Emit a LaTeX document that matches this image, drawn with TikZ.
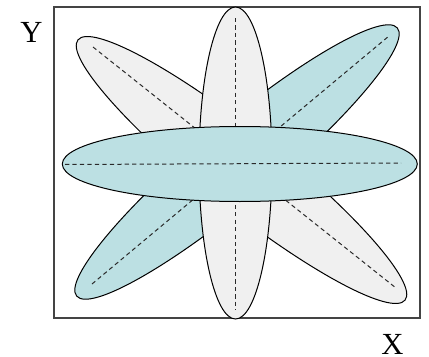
\documentclass[tikz,border=0pt]{standalone}
\usepackage{fontspec}
\setmainfont{Liberation Serif}
\definecolor{petalgray}{HTML}{F0F0F0}
\definecolor{petalteal}{HTML}{BCE0E3}
\definecolor{frame}{HTML}{444444}
\definecolor{axisdash}{HTML}{2A2A2A}
\tikzset{
  petal/.style={draw=black, line width=0.75pt},
  grayfill/.style={petal, fill=petalgray},
  tealfill/.style={petal, fill=petalteal},
  axisline/.style={draw=axisdash, dashed, dash pattern=on 3.2pt off 2.4pt, line width=0.75pt},
  lab/.style={font=\fontsize{23}{25}\selectfont, inner sep=0pt}
}
\begin{document}
\begin{tikzpicture}[x=0.75pt,y=-0.75pt]
\useasboundingbox (0,0) rectangle (429,357);
% frame
\draw[draw=frame, line width=0.9pt] (54,7) rectangle (420,318);
% diagonal grey petal (top-left to bottom-right)
\begin{scope}[shift={(241.5,170)}, rotate=-38.5]
  \path[grayfill] (0,0) ellipse [x radius=209, y radius=38];
\end{scope}
\draw[axisline] (93,47) -- (396,288);
% diagonal teal petal (bottom-left to top-right)
\begin{scope}[shift={(237,162)}, rotate=39.9]
  \path[tealfill] (0,0) ellipse [x radius=209, y radius=38];
\end{scope}
\draw[axisline] (92,284) -- (389,36);
% vertical grey petal
\path[grayfill] (235.5,163) ellipse [x radius=36.5, y radius=156];
\draw[axisline] (235.5,18) -- (235.5,310);
% horizontal teal petal
\path[tealfill] (239.8,164) ellipse [x radius=177.5, y radius=37.5];
\draw[axisline] (65,164.5) -- (401,163);
% labels
\node[lab] (ylab) at (31.5,32) {Y};
\node[lab] (xlab) at (392.5,344) {X};
\end{tikzpicture}
\end{document}
